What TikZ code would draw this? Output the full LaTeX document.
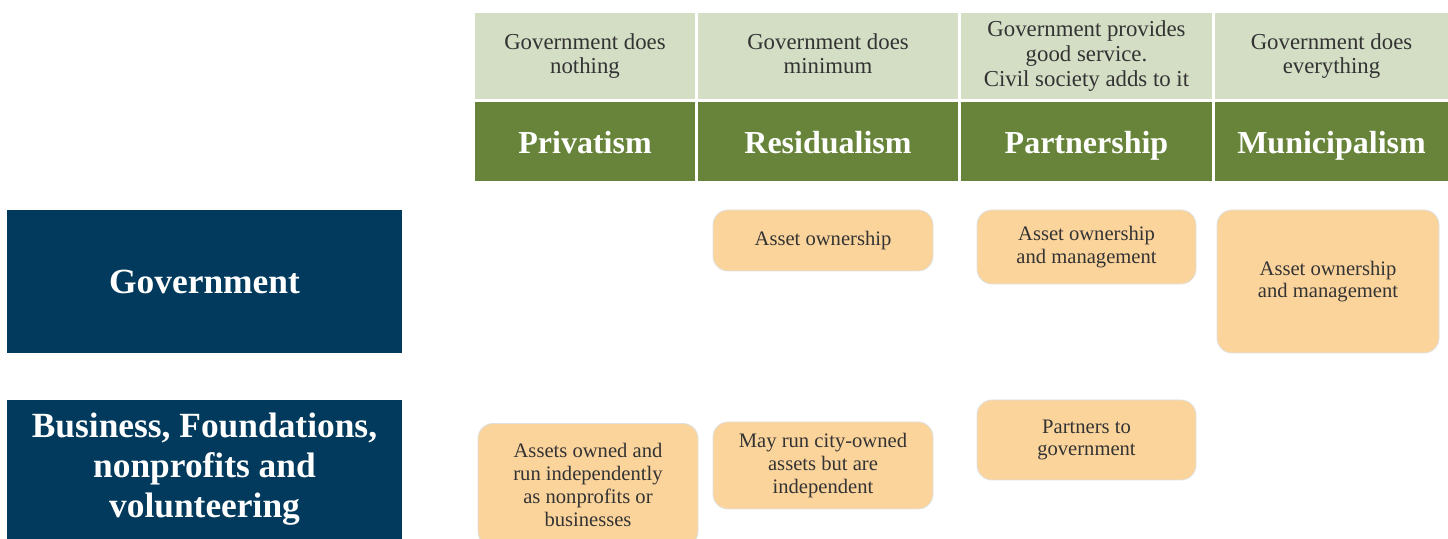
\documentclass[tikz,border=0pt]{standalone}
\usepackage{fontspec}
\setmainfont{Liberation Serif}
\definecolor{lightg}{HTML}{D4DEC5}
\definecolor{darkg}{HTML}{68843A}
\definecolor{navy}{HTML}{013A5C}
\definecolor{peach}{HTML}{FBD49C}
\definecolor{txt}{HTML}{333333}
\tikzset{
  cell/.style={fill=lightg, inner sep=0pt, align=center, text=txt,
    font=\fontsize{11.4pt}{12.3pt}\selectfont},
  model/.style={fill=darkg, inner sep=0pt, align=center, text=white,
    text height=13.5pt, text depth=1.5pt,
    font=\fontsize{16pt}{18pt}\selectfont\bfseries},
  actor/.style={fill=navy, inner sep=0pt, align=center, text=white,
    font=\fontsize{17.7pt}{20pt}\selectfont\bfseries},
  role/.style={fill=peach, draw=black!12, line width=0.4pt, rounded corners=7.5pt,
    inner sep=0pt, align=center, text=txt,
    font=\fontsize{10.3pt}{11.4pt}\selectfont},
}
\begin{document}
\begin{tikzpicture}[x=0.5pt,y=-0.5pt]
\path[use as bounding box, fill=white] (0,0) rectangle (1448,539);
% header descriptions
\node[cell, minimum width=110pt, minimum height=43pt] (d1) at (585,56) {Government does\\nothing};
\node[cell, minimum width=130pt, minimum height=43pt] (d2) at (828,56) {Government does\\minimum\vphantom{g}};
\node[cell, minimum width=125.5pt, minimum height=43pt] (d3) at (1086.5,56) {Government provides\\good service.\\Civil society adds to it};
\node[cell, minimum width=116.5pt, minimum height=43pt] (d4) at (1331.5,56) {Government does\\everything};
% model names
\node[model, minimum width=110pt, minimum height=39.5pt] (m1) at (585,141.5) {Privatism};
\node[model, minimum width=130pt, minimum height=39.5pt] (m2) at (828,141.5) {Residualism};
\node[model, minimum width=125.5pt, minimum height=39.5pt] (m3) at (1086.5,141.5) {Partnership};
\node[model, minimum width=116.5pt, minimum height=39.5pt] (m4) at (1331.5,141.5) {Municipalism};
% actors
\node[actor, minimum width=197.5pt, minimum height=71.5pt] (gov) at (204.5,281.5) {Government};
\node[actor, minimum width=197.5pt, minimum height=69.5pt] (bus) at (204.5,469.5) {Business, Foundations,\\nonprofits and\\volunteering};
% roles
\node[role, minimum width=110pt, minimum height=30.5pt] (r1) at (823,240.5) {Asset ownership};
\node[role, minimum width=109.5pt, minimum height=37pt] (r2) at (1086.5,247) {Asset ownership\\and management};
\node[role, minimum width=111pt, minimum height=71.5pt] (r3) at (1328,281.5) {Asset ownership\\and management};
\node[role, minimum width=110pt, minimum height=61.5pt] (r4) at (588,485) {Assets owned and\\run independently\\as nonprofits or\\businesses};
\node[role, minimum width=110pt, minimum height=43.5pt] (r5) at (823,465.5) {May run city-owned\\assets but are\\independent};
\node[role, minimum width=109.5pt, minimum height=40pt] (r6) at (1086.5,440) {Partners to\\government};
\end{tikzpicture}
\end{document}
